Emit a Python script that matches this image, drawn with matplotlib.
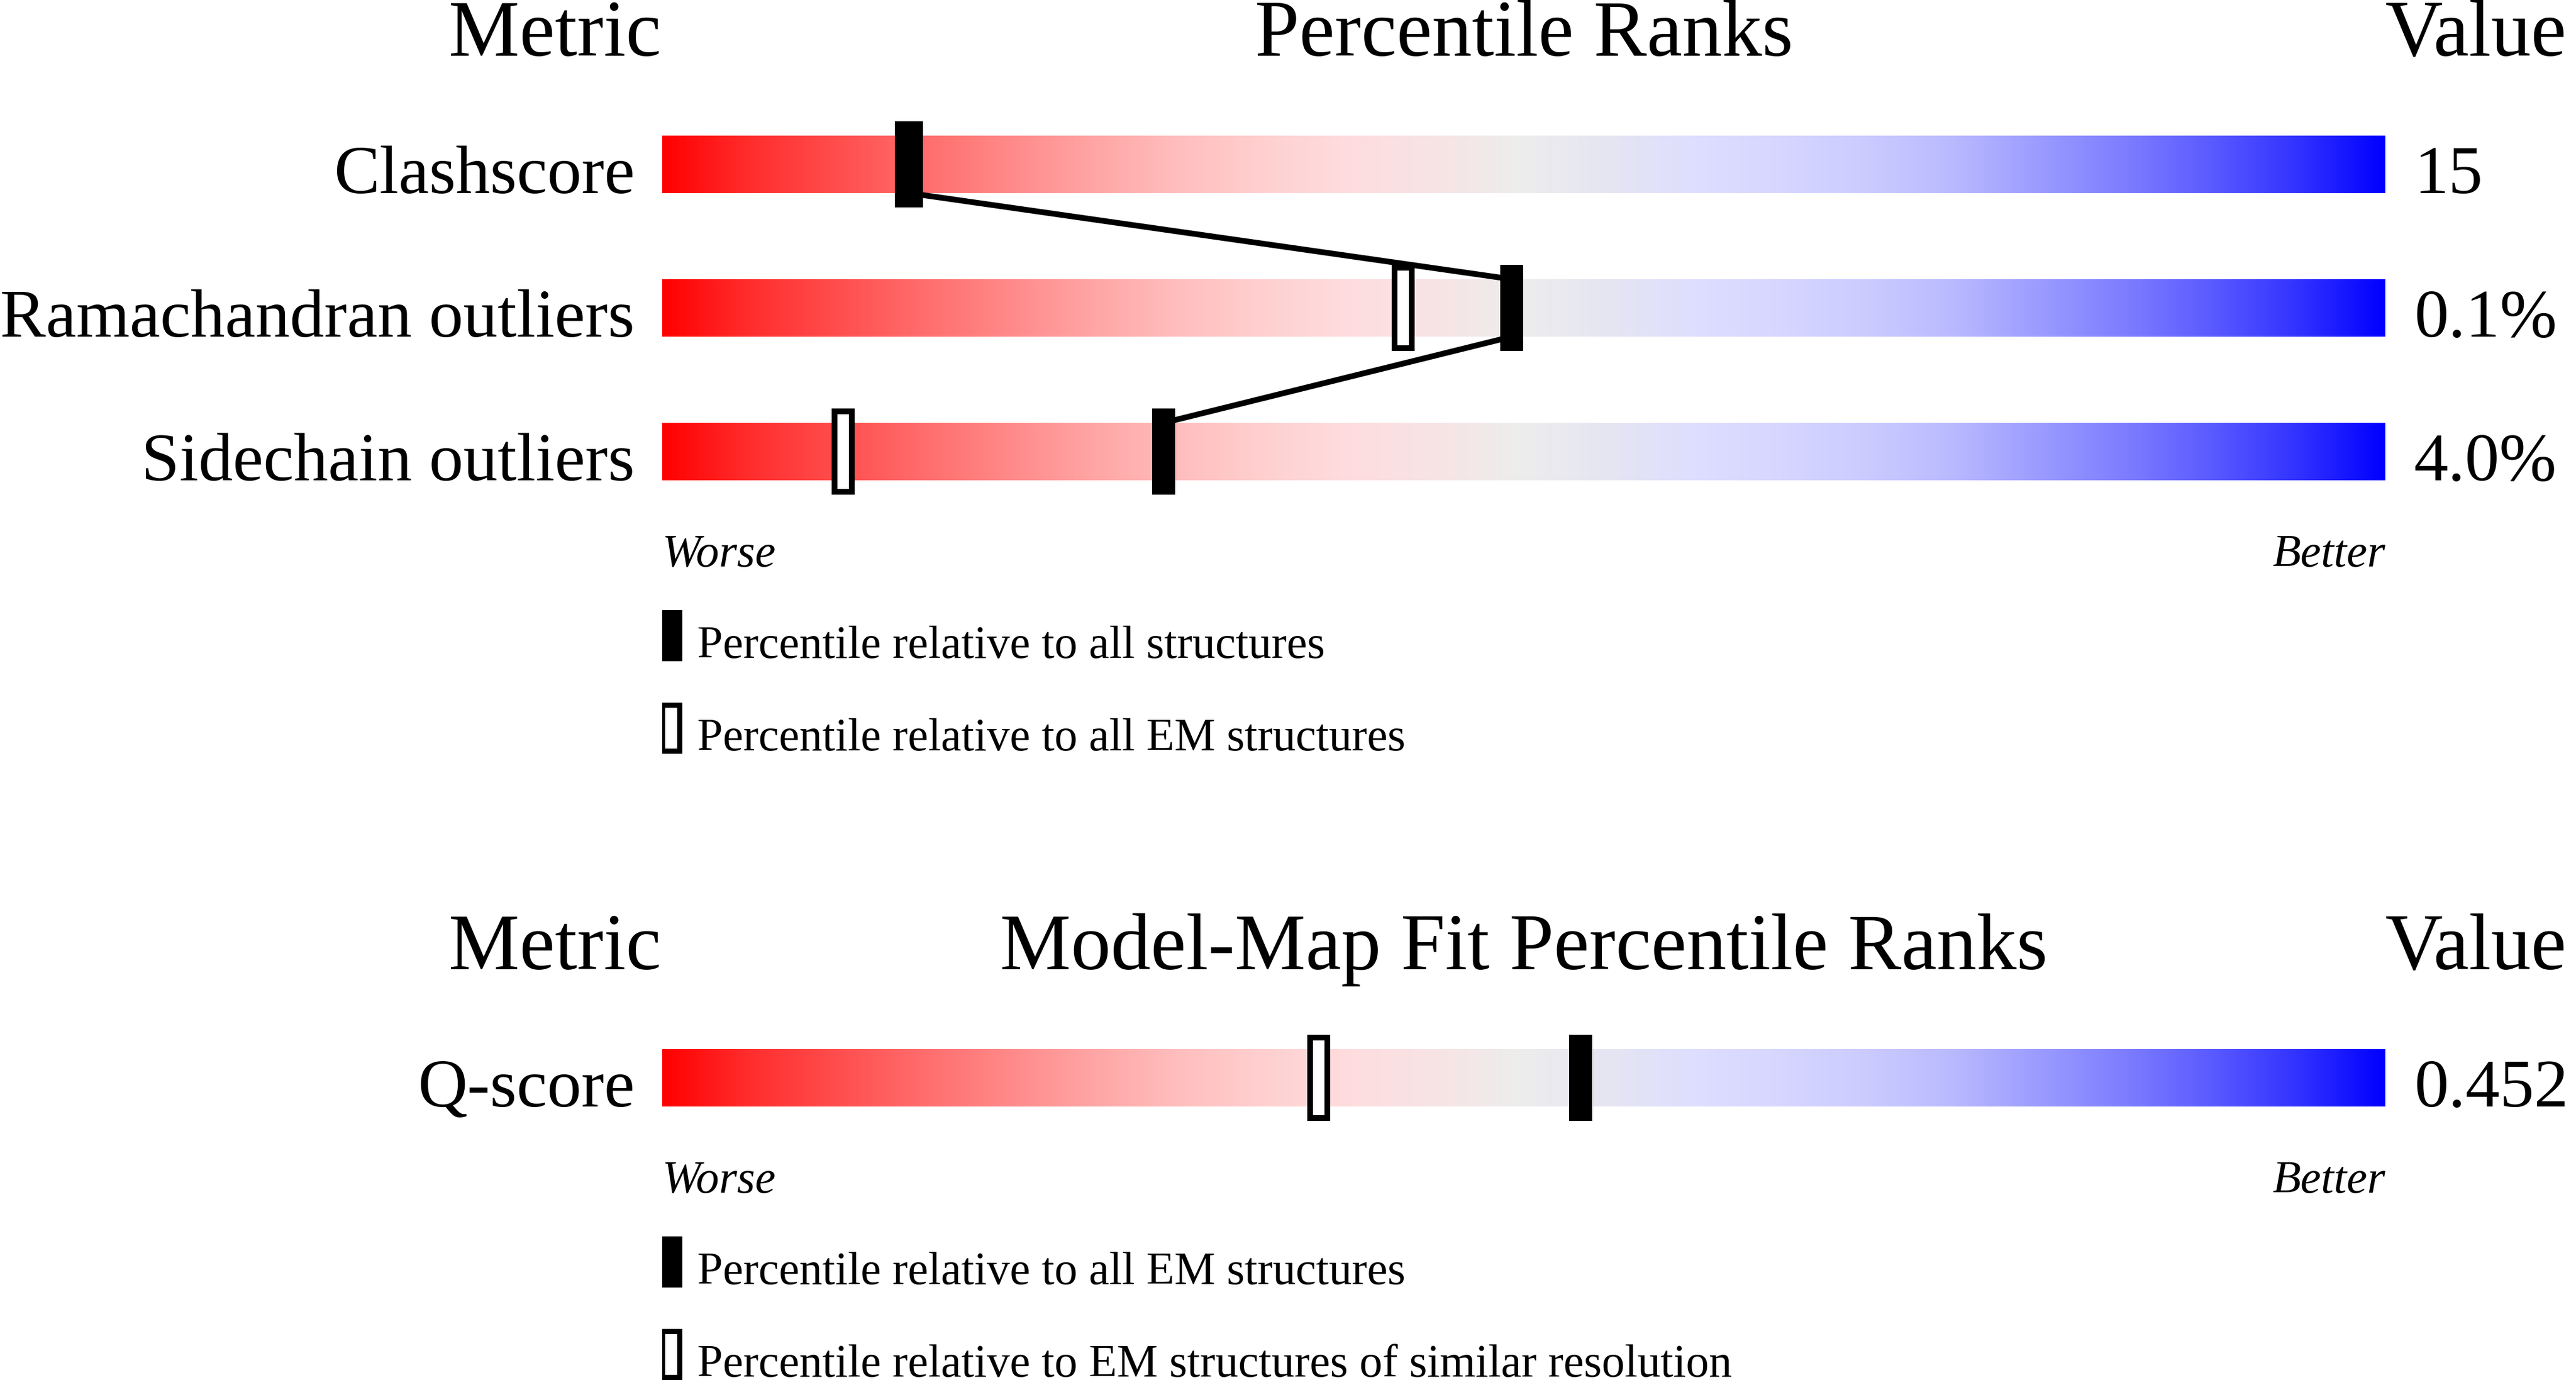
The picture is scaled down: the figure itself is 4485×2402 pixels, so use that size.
import matplotlib
matplotlib.use("Agg")
import matplotlib.pyplot as plt
import numpy as np
from matplotlib.colors import LinearSegmentedColormap
from matplotlib.patches import Rectangle

# ---------------- data ----------------
geom_metrics = ["Clashscore", "Ramachandran outliers", "Sidechain outliers"]
geom_values = ["15", "0.1%", "4.0%"]
geom_pct_all = [14.3, 49.3, 29.1]          # percentile relative to all structures
geom_pct_em = [None, 43.0, 10.5]           # percentile relative to all EM structures
geom_legend = ["Percentile relative to all structures",
               "Percentile relative to all EM structures"]

fit_metrics = ["Q-score"]
fit_values = ["0.452"]
fit_pct_all_em = [53.3]                    # percentile relative to all EM structures
fit_pct_similar = [38.1]                   # relative to EM structures of similar resolution
fit_legend = ["Percentile relative to all EM structures",
              "Percentile relative to EM structures of similar resolution"]

headers_top = ["Metric", "Percentile Ranks", "Value"]
headers_bottom = ["Metric", "Model-Map Fit Percentile Ranks", "Value"]
scale_ends = ["Worse", "Better"]

# ---------------- style / layout ----------------
plt.rcParams['font.family'] = ['Liberation Serif', 'DejaVu Serif']
W, H = 4485, 2402
BAR_L, BAR_R = 1153, 4153
ROW = 250.0            # pixels per row unit
XU = (BAR_R - BAR_L) / 100.0   # pixels per percentile unit

stops = [
    (0.00, (255, 0, 0)), (0.05, (255, 45, 45)), (0.15, (255, 108, 108)),
    (0.25, (255, 165, 165)), (0.30, (255, 190, 190)), (0.35, (255, 208, 208)),
    (0.40, (254, 221, 223)), (0.45, (247, 228, 229)), (0.50, (237, 237, 237)),
    (0.55, (229, 229, 243)), (0.60, (222, 222, 255)), (0.65, (214, 214, 255)),
    (0.70, (203, 203, 255)), (0.75, (185, 185, 255)), (0.80, (155, 155, 255)),
    (0.85, (125, 125, 255)), (0.90, (90, 90, 255)), (0.95, (50, 50, 255)),
    (1.00, (0, 0, 255)),
]
cmap = LinearSegmentedColormap.from_list(
    "slider", [(p, tuple(c / 255 for c in rgb)) for p, rgb in stops], N=1024)

HEAD_FS = 100
LAB_FS = 86
SMALL_FS = 57.6
END_FS = 58

fig = plt.figure(figsize=(W / 100, H / 100), dpi=100)


def make_axes(top_px, bottom_px, row0_px):
    ax = fig.add_axes([BAR_L / W, 1 - bottom_px / H, (BAR_R - BAR_L) / W,
                       (bottom_px - top_px) / H])
    ax.set_xlim(0, 100)
    ax.set_ylim((bottom_px - row0_px) / ROW, (top_px - row0_px) / ROW)
    ax.axis('off')
    return ax


def black_marker(ax, x, y, w_px, h):
    w = w_px / XU
    ax.add_patch(Rectangle((x - w / 2, y - h / 2), w, h, facecolor='black',
                           edgecolor='none', zorder=5))


def open_marker(ax, x, y, w_px, h, edge_px):
    w = w_px / XU
    ax.add_patch(Rectangle((x - w / 2, y - h / 2), w, h, facecolor='black',
                           edgecolor='none', zorder=3))
    ex = edge_px / XU
    ey = edge_px / ROW
    ax.add_patch(Rectangle((x - w / 2 + ex, y - h / 2 + ey), w - 2 * ex,
                           h - 2 * ey, facecolor='white', edgecolor='none',
                           zorder=3))


def panel(ax, headers, metrics, values, pct_filled, pct_open, legend,
          connect, filled_widths):
    grad = np.linspace(0, 1, 1500).reshape(1, -1)
    ax.text(-0.07, -0.756, headers[0], fontsize=HEAD_FS, ha='right', va='baseline')
    ax.text(50, -0.756, headers[1], fontsize=HEAD_FS, ha='center', va='baseline')
    ax.text(100, -0.756, headers[2], fontsize=HEAD_FS, ha='left', va='baseline')
    n = len(metrics)
    for i in range(n):
        ax.imshow(grad, cmap=cmap, aspect='auto', interpolation='bilinear',
                  extent=(0, 100, i + 0.2, i - 0.2), zorder=1)
        ax.text(-1.6, i + 0.2, metrics[i], fontsize=LAB_FS, ha='right', va='baseline')
        ax.text(101.67, i + 0.2, values[i], fontsize=LAB_FS, ha='left', va='baseline')
        if pct_open[i] is not None:
            open_marker(ax, pct_open[i], i, 40, 0.6, 10)
        black_marker(ax, pct_filled[i], i, filled_widths[i], 0.6)
    if connect:
        for i in range(n - 1):
            ax.plot([pct_filled[i], pct_filled[i + 1]], [i + 0.2, i + 1 - 0.2],
                    color='black', lw=7.2, solid_capstyle='butt', zorder=4)
    last = n - 1
    ax.text(0, last + 0.8, scale_ends[0], fontsize=END_FS, style='italic',
            ha='left', va='baseline')
    ax.text(100, last + 0.8, scale_ends[1], fontsize=END_FS, style='italic',
            ha='right', va='baseline')
    # legend
    lw_u = 39 / XU
    lh = 89 / ROW
    for k, lab in enumerate(legend):
        yc = last + 1.282 + 0.642 * k
        ax.add_patch(Rectangle((0.52 - lw_u / 2, yc - lh / 2), lw_u, lh,
                               facecolor='black', edgecolor='none'))
        if k == 1:
            ex, ey = 9 / XU, 9 / ROW
            ax.add_patch(Rectangle((0.52 - lw_u / 2 + ex, yc - lh / 2 + ey),
                                   lw_u - 2 * ex, lh - 2 * ey,
                                   facecolor='white', edgecolor='none'))
        ax.text(2.03, last + 1.438 + 0.642 * k, lab, fontsize=SMALL_FS,
                ha='left', va='baseline')
    ax.set_xlim(0, 100)


ax1 = make_axes(0, 1420, 286)
panel(ax1, headers_top, geom_metrics, geom_values, geom_pct_all, geom_pct_em,
      geom_legend, True, [49, 40, 40])
ax1.set_ylim((1420 - 286) / ROW, (0 - 286) / ROW)

ax2 = make_axes(1420, 2402, 1876)
panel(ax2, headers_bottom, fit_metrics, fit_values, fit_pct_all_em,
      fit_pct_similar, fit_legend, False, [40])
ax2.set_ylim((2402 - 1876) / ROW, (1420 - 1876) / ROW)

fig.savefig("out.png", dpi=100, facecolor='white')
